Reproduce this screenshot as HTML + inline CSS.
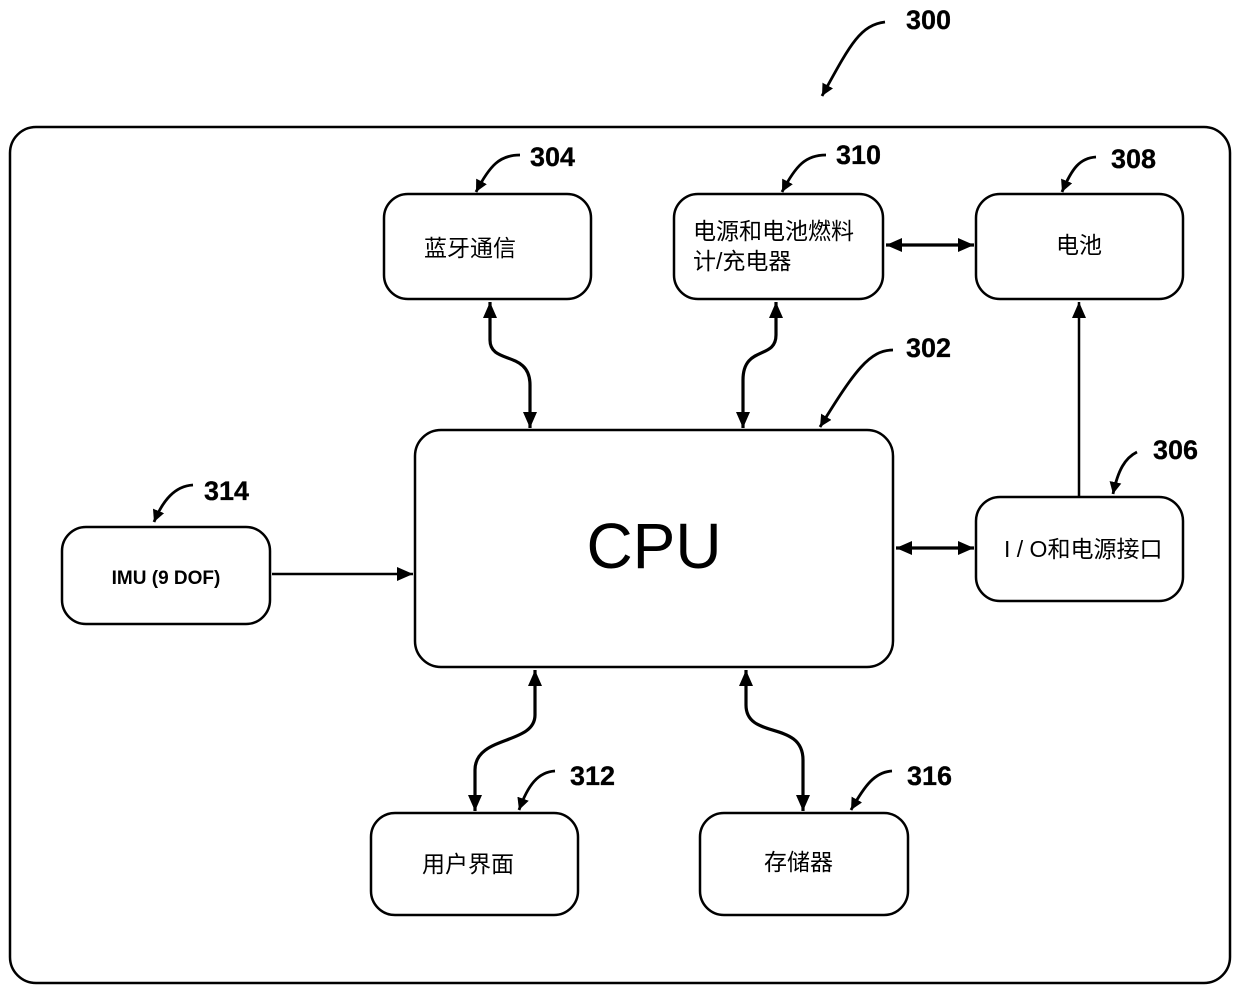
<!DOCTYPE html>
<html><head><meta charset="utf-8"><style>
html,body{margin:0;padding:0;background:#fff;}
svg{display:block;}
text{font-family:"Liberation Sans","Noto Sans CJK SC",sans-serif;fill:#000;}
.n{font-size:27px;font-weight:bold;stroke:#000;stroke-width:0.3;}
.c{font-size:23px;}
</style></head><body>
<svg width="1240" height="991" viewBox="0 0 1240 991" xmlns="http://www.w3.org/2000/svg">
<defs>
<marker id="b" viewBox="0 0 16 14" refX="16" refY="7" markerWidth="16" markerHeight="14" orient="auto-start-reverse" markerUnits="userSpaceOnUse">
<path d="M0,0 L16,7 L0,14 z" fill="#000"/>
</marker>
<marker id="s" viewBox="0 0 12 12" refX="12" refY="6" markerWidth="12" markerHeight="12" orient="auto" markerUnits="userSpaceOnUse">
<path d="M0,0 L12,6 L0,12 z" fill="#000"/>
</marker>
</defs>
<g fill="none" stroke="#000" stroke-width="2.5">
<rect x="10" y="127" width="1220" height="856" rx="26"/>
<rect x="384" y="194" width="207" height="105" rx="24"/>
<rect x="674" y="194" width="209" height="105" rx="24"/>
<rect x="976" y="194" width="207" height="105" rx="24"/>
<rect x="415" y="430" width="478" height="237" rx="26"/>
<rect x="62" y="527" width="208" height="97" rx="24"/>
<rect x="976" y="497" width="207" height="104" rx="24"/>
<rect x="371" y="813" width="207" height="102" rx="24"/>
<rect x="700" y="813" width="208" height="102" rx="24"/>
</g>
<g fill="none" stroke="#000" stroke-width="3.2">
<path d="M490,302 L490,340 C490,365 530,350 530,385 L530,428" marker-start="url(#b)" marker-end="url(#b)"/>
<path d="M776,302 L776,335 C776,360 743,345 743,380 L743,428" marker-start="url(#b)" marker-end="url(#b)"/>
<path d="M886,245 L974,245" marker-start="url(#b)" marker-end="url(#b)"/>
<path d="M1079,496 L1079,302" stroke-width="2.5" marker-end="url(#b)"/>
<path d="M896,548 L974,548" marker-start="url(#b)" marker-end="url(#b)"/>
<path d="M272,574 L413,574" stroke-width="2.5" marker-end="url(#b)"/>
<path d="M535,670 L535,715 C535,745 475,735 475,770 L475,811" marker-start="url(#b)" marker-end="url(#b)"/>
<path d="M746,670 L746,705 C746,740 803,720 803,760 L803,811" marker-start="url(#b)" marker-end="url(#b)"/>
</g>
<g fill="none" stroke="#000" stroke-width="2.8">
<path d="M885,22 C860,25 850,45 822,96" marker-end="url(#s)"/>
<path d="M520,155 C500,155 490,165 476,192" marker-end="url(#s)"/>
<path d="M826,155 C806,155 796,165 782,192" marker-end="url(#s)"/>
<path d="M1096,157 C1080,158 1072,168 1062,192" marker-end="url(#s)"/>
<path d="M893,350 C870,350 855,370 820,427" marker-end="url(#s)"/>
<path d="M1137,452 C1125,458 1118,470 1113,494" marker-end="url(#s)"/>
<path d="M193,485 C175,486 163,500 154,522" marker-end="url(#s)"/>
<path d="M555,771 C538,772 528,785 519,810" marker-end="url(#s)"/>
<path d="M892,771 C875,772 865,785 851,810" marker-end="url(#s)"/>
</g>
<text class="n" x="906" y="29">300</text>
<text class="n" x="530" y="166">304</text>
<text class="n" x="836" y="164">310</text>
<text class="n" x="1111" y="168">308</text>
<text class="n" x="906" y="357">302</text>
<text class="n" x="1153" y="459">306</text>
<text class="n" x="204" y="500">314</text>
<text class="n" x="570" y="785">312</text>
<text class="n" x="907" y="785">316</text>
<text class="c" x="424" y="256">蓝牙通信</text>
<text class="c" x="693" y="239">电源和电池燃料</text>
<text class="c" x="693" y="269">计/充电器</text>
<text class="c" x="1056" y="253">电池</text>
<text x="654" y="568" text-anchor="middle" style="font-size:64px">CPU</text>
<text x="166" y="584" text-anchor="middle" style="font-size:19px;font-weight:bold">IMU (9 DOF)</text>
<text class="c" x="1004" y="557">I / O和电源接口</text>
<text class="c" x="422" y="872">用户界面</text>
<text class="c" x="764" y="870">存储器</text>
</svg>
</body></html>
